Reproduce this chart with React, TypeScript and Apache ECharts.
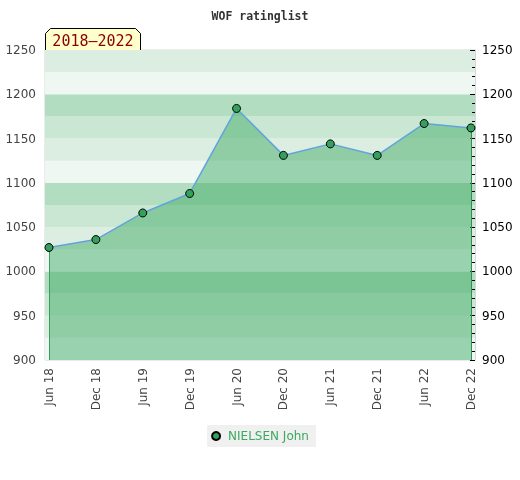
import React, { useEffect, useRef } from "react";
import * as echarts from "echarts";

const categories = ["Jun 18", "Dec 18", "Jun 19", "Dec 19", "Jun 20", "Dec 20", "Jun 21", "Dec 21", "Jun 22", "Dec 22"];
const ratings = [1027, 1036, 1066, 1088, 1184, 1131, 1144, 1131, 1167, 1162];
const seriesName = "NIELSEN John";
const titleText = "WOF ratinglist";
const periodLabel = "2018–2022";
const yMin = 900;
const yMax = 1250;

export default function App() {
  const ref = useRef<HTMLDivElement>(null);
  useEffect(() => {
    if (!ref.current) return;
    const chart = echarts.init(ref.current, null, { renderer: "svg" });
    const lastIdx = categories.length - 1;
    const data = ratings.map((v, i) => [i, v]);
    const idx = categories.map((_, i) => i);
    const bandColors = ["#eff7f2", "#dcede1", "#c9e7d3", "#b3ddc1"];
    chart.setOption({
      animation: false,
      title: {
        text: titleText,
        left: "center",
        top: 5,
        textStyle: { fontFamily: "DejaVu Sans Mono", fontSize: 11.5, fontWeight: "bold", color: "#333" },
      },
      legend: {
        top: 425,
        left: "center",
        backgroundColor: "#f0f0f0",
        padding: [5, 7, 5, 4],
        icon: "circle",
        itemWidth: 14,
        itemHeight: 8,
        textStyle: { fontFamily: "DejaVu Sans", fontSize: 12, color: "#3aaa5e" },
        data: [seriesName],
      },
      grid: {
        left: 45,
        right: 45,
        top: 50,
        bottom: 120,
        show: true,
        borderColor: "#d6d6d6",
        borderWidth: 1,
      },
      xAxis: {
        type: "value",
        min: -0.085,
        max: lastIdx + 0.085,
        splitLine: { show: false },
        axisLine: { show: false },
        axisTick: { show: false },
        axisLabel: {
          customValues: idx,
          rotate: 90,
          margin: 8,
          fontFamily: "DejaVu Sans",
          fontSize: 12,
          color: "#444",
          formatter: (v: number) => categories[Math.round(v)] ?? "",
        },
      },
      yAxis: [
        {
          type: "value",
          position: "left",
          min: yMin,
          max: yMax,
          interval: 50,
          axisLine: { show: false },
          axisTick: { show: false },
          splitLine: { show: false },
          axisLabel: { margin: 9, fontFamily: "DejaVu Sans", fontSize: 12, color: "#444", formatter: (v: number) => String(v) },
        },
        {
          type: "value",
          position: "right",
          min: yMin,
          max: yMax,
          interval: 50,
          axisLine: { show: true, lineStyle: { color: "#d6d6d6" } },
          axisTick: { show: true, inside: true, length: 5, lineStyle: { color: "#000" } },
          minorTick: { show: true, splitNumber: 5, length: 3, lineStyle: { color: "#000" } },
          splitLine: { show: false },
          axisLabel: { margin: 7, fontFamily: "DejaVu Sans", fontSize: 12, color: "#000", formatter: (v: number) => String(v) },
        },
        {
          type: "value",
          position: "left",
          min: yMin,
          max: yMax,
          interval: 25,
          axisLine: { show: false },
          axisTick: { show: false },
          axisLabel: { show: false },
          splitLine: { show: false },
          splitArea: { show: true, areaStyle: { color: bandColors } },
        },
      ],
      series: [
        {
          name: seriesName,
          type: "line",
          data,
          z: 5,
          symbol: "circle",
          symbolSize: 8,
          lineStyle: { color: "#62a3dc", width: 1.5 },
          itemStyle: { color: "#33a05c", borderColor: "#000", borderWidth: 1 },
          areaStyle: { color: "rgba(67,173,105,0.5)", opacity: 1, origin: "start" },
          markLine: {
            silent: true,
            symbol: "none",
            label: { show: false },
            lineStyle: { color: "#2f8f50", width: 1, type: "solid" },
            data: [
              [{ coord: [0, ratings[0]] }, { coord: [0, yMin] }],
              [{ coord: [lastIdx, ratings[lastIdx]] }, { coord: [lastIdx, yMin] }],
            ],
          },
        },
      ],
      graphic: [
        {
          type: "group",
          left: 45,
          top: 28,
          children: [
            {
              type: "polygon",
              shape: { points: [[0, 22], [0, 5], [5, 0], [90, 0], [95, 5], [95, 22]] },
              style: { fill: "#ffffcc", stroke: "#000", lineWidth: 1 },
            },
            {
              type: "text",
              x: 47.5,
              y: 12,
              style: {
                text: periodLabel,
                fill: "#8b0000",
                font: "15px 'DejaVu Sans Mono'",
                align: "center",
                verticalAlign: "middle",
              },
            },
          ],
        },
      ],
    });
    return () => chart.dispose();
  }, []);
  return <div ref={ref} style={{ position: "fixed", left: 0, top: 0, width: 520, height: 480 }} />;
}
